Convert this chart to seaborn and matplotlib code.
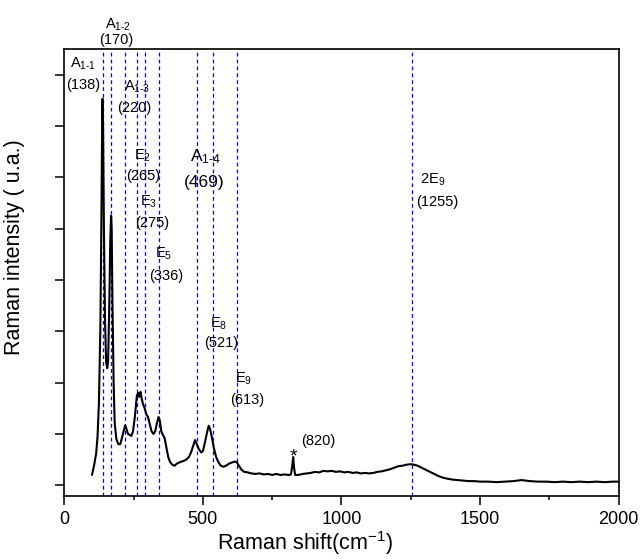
import matplotlib
matplotlib.use("Agg")
import matplotlib.pyplot as plt
import seaborn as sns
from matplotlib.ticker import MultipleLocator

# Raman spectrum (cm-1, arbitrary units)
raman_shift = [100, 108, 115, 120, 125, 130, 134, 137, 138, 140, 143, 147, 151, 155, 158,
               162, 166, 169, 171, 174, 178, 182, 188, 195, 202, 208, 214, 220, 224, 230,
               236, 242, 248, 255, 262, 267, 271, 275, 279, 284, 290, 296, 302, 308, 315,
               322, 328, 334, 340, 345, 350, 356, 362, 368, 375, 382, 390, 398, 406, 414,
               422, 430, 440, 450, 458, 466, 472, 478, 486, 494, 500, 507, 514, 521, 526,
               532, 540, 548, 556, 565, 574, 584, 594, 604, 614, 622, 630, 640, 650, 662,
               675, 690, 705, 720, 735, 750, 765, 780, 795, 810, 818, 822, 826, 829, 833,
               845, 860, 875, 890, 905, 920, 935, 950, 965, 980, 995, 1010, 1025, 1040, 1055,
               1070, 1085, 1100, 1115, 1130, 1145, 1160, 1175, 1190, 1205, 1220, 1235, 1250, 1262, 1275,
               1290, 1305, 1320, 1335, 1350, 1365, 1380, 1400, 1420, 1440, 1460, 1480, 1500, 1530, 1560,
               1590, 1620, 1650, 1680, 1710, 1740, 1770, 1800, 1830, 1860, 1890, 1920, 1950, 1980, 2000]
intensity = [0.20, 0.40, 0.62, 0.95, 1.6, 3.0, 5.2, 7.4, 7.53, 7.0, 5.0, 3.2, 2.4, 2.28, 2.4,
             3.4, 4.8, 5.25, 5.0, 3.5, 2.0, 1.2, 0.9, 0.8, 0.8, 0.92, 1.05, 1.17, 1.1, 1.0,
             0.98, 0.96, 1.05, 1.35, 1.75, 1.8, 1.72, 1.82, 1.7, 1.58, 1.5, 1.38, 1.33, 1.2, 1.05,
             1.0, 1.05, 1.2, 1.33, 1.25, 1.05, 0.98, 0.92, 0.75, 0.55, 0.45, 0.40, 0.38, 0.42, 0.44,
             0.46, 0.47, 0.50, 0.55, 0.65, 0.78, 0.88, 0.80, 0.70, 0.64, 0.66, 0.82, 1.0, 1.16, 1.1,
             0.95, 0.72, 0.55, 0.45, 0.38, 0.36, 0.38, 0.42, 0.44, 0.46, 0.45, 0.38, 0.30, 0.26, 0.25,
             0.23, 0.22, 0.23, 0.21, 0.22, 0.20, 0.22, 0.20, 0.21, 0.20, 0.21, 0.35, 0.55, 0.35, 0.20,
             0.20, 0.22, 0.23, 0.24, 0.26, 0.25, 0.28, 0.27, 0.28, 0.26, 0.27, 0.25, 0.26, 0.24, 0.25,
             0.23, 0.24, 0.23, 0.24, 0.26, 0.27, 0.29, 0.31, 0.34, 0.37, 0.38, 0.40, 0.41, 0.40, 0.38,
             0.34, 0.30, 0.26, 0.22, 0.18, 0.15, 0.13, 0.11, 0.10, 0.09, 0.08, 0.08, 0.07, 0.07, 0.06,
             0.07, 0.08, 0.10, 0.08, 0.07, 0.07, 0.06, 0.07, 0.06, 0.07, 0.06, 0.07, 0.06, 0.07, 0.07]

# dashed guide lines for the assigned modes
mode_lines = [138, 170, 220, 262, 290, 340, 478, 535, 622, 1255]

# mode labels: name, wavenumber text, and where each sits
mode_names = [r"A$_{1\text{-}1}$", r"A$_{1\text{-}2}$", r"A$_{1\text{-}3}$", r"E$_2$", r"E$_3$",
              r"E$_5$", r"A$_{1\text{-}4}$", r"E$_8$", r"E$_9$", r"2E$_9$"]
mode_values = ["(138)", "(170)", "(220)", "(265)", "(275)", "(336)", "(469)", "(521)", "(613)", "(1255)"]
name_xy = [(67, 8.22), (194, 8.98), (262, 7.77), (283, 6.41), (304, 5.53),
           (358, 4.50), (510, 6.41), (557, 3.15), (647, 2.08), (1331, 5.96)]
value_xy = [(67, 7.79), (187, 8.68), (252, 7.36), (284, 6.03), (317, 5.11),
            (367, 4.08), (504, 5.89), (566, 2.77), (660, 1.66), (1345, 5.52)]
big_labels = ["(469)", r"A$_{1\text{-}4}$"]

sns.set_style("ticks")
plt.rcParams["font.family"] = ["Liberation Sans", "DejaVu Sans"]
plt.rcParams["mathtext.fontset"] = "custom"
plt.rcParams["mathtext.rm"] = "Liberation Sans"
plt.rcParams["mathtext.it"] = "Liberation Sans"
plt.rcParams["mathtext.default"] = "regular"
for key in ["text.color", "axes.labelcolor", "xtick.color", "ytick.color", "axes.edgecolor"]:
    plt.rcParams[key] = "black"

fig = plt.figure(figsize=(6.41, 5.59), dpi=100)
ax = fig.add_axes([0.1003, 0.1127, 0.8646, 0.7996])

for xv in mode_lines:
    ax.axvline(xv, color="#0000ff", lw=0.9, ls=(0, (3, 2.5)), zorder=1)

sns.lineplot(x=raman_shift, y=intensity, color="black", lw=1.5, ax=ax, zorder=3)

for name, val, (nx, ny), (vx, vy) in zip(mode_names, mode_values, name_xy, value_xy):
    fs = 12.5 if val in big_labels else 10.5
    ax.text(nx, ny, name, fontsize=fs, ha="center", va="center", clip_on=False)
    ax.text(vx, vy, val, fontsize=fs, ha="center", va="center", clip_on=False)

ax.text(826, 0.55, "*", fontsize=14, ha="center", va="center")
ax.text(916, 0.86, "(820)", fontsize=10.5, ha="center", va="center")

ax.set_xlim(0, 2000)
ax.set_ylim(-0.21, 8.5)
ax.xaxis.set_major_locator(MultipleLocator(500))
ax.xaxis.set_minor_locator(MultipleLocator(250))
ax.set_yticks(range(0, 9))
ax.set_yticklabels([])
ax.tick_params(axis="both", which="major", direction="out", length=6.5, width=1.1,
               labelsize=13, pad=4)
ax.tick_params(axis="x", which="minor", direction="out", length=3, width=1.1)
for sp in ax.spines.values():
    sp.set_linewidth(1.2)

ax.set_xlabel(r"Raman shift(cm$^{-1}$)", fontsize=15.5)
ax.set_ylabel("Raman intensity ( u.a.)", fontsize=15.5)
ax.xaxis.set_label_coords(0.434, -0.075)
ax.yaxis.set_label_coords(-0.07, 0.557)

fig.savefig("out.png", dpi=100)
